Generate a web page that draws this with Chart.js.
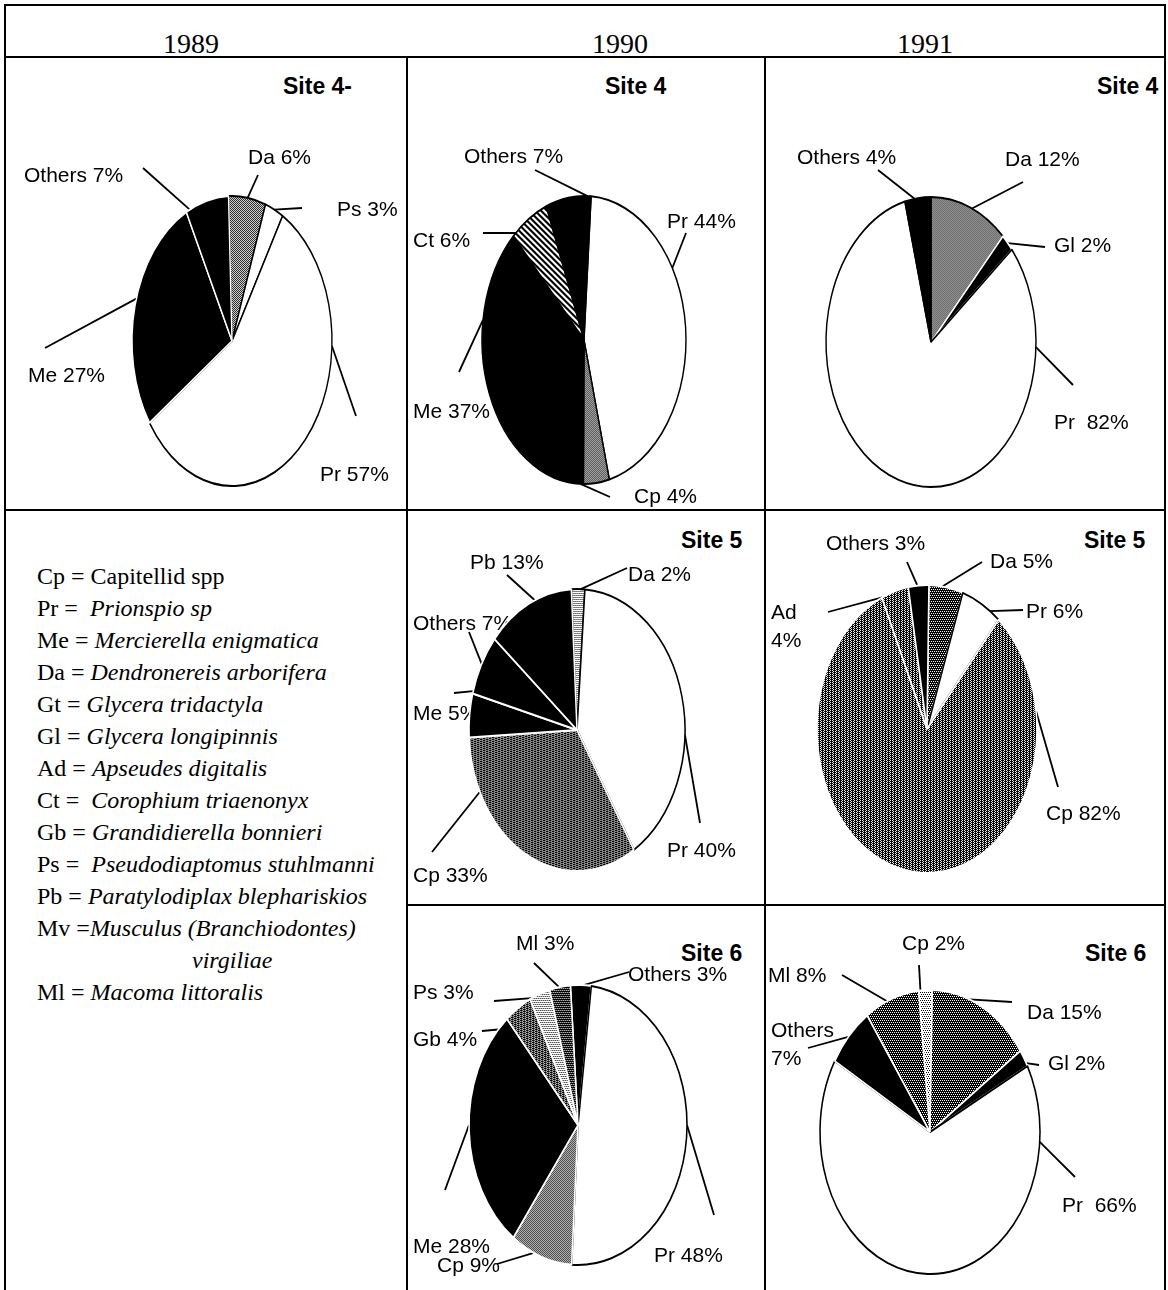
<!DOCTYPE html>
<html>
<head>
<meta charset="utf-8">
<script src="https://cdn.jsdelivr.net/npm/chart.js@4.4.1/dist/chart.umd.min.js"></script>
<style>
  html, body { margin: 0; padding: 0; background: #fff; }
  #page { position: relative; width: 1168px; height: 1290px; overflow: hidden; background: #fff; }
  .rule { position: absolute; background: #000; z-index: 5; }
  .year { position: absolute; font-family: "Liberation Serif", "Times New Roman", serif; font-size: 28px; transform: translate(-50%, -50%); line-height: 1; }
  .site { position: absolute; font-family: "Liberation Sans", Arial, sans-serif; font-weight: bold; font-size: 23px; transform: translateY(-50%); line-height: 1; white-space: pre; }
  canvas { position: absolute; }
  .k { position: absolute; white-space: pre; font-family: "Liberation Serif", "Times New Roman", serif; font-size: 24px; line-height: 1; transform: translateY(-50%); }
  .k i { font-style: italic; }
</style>
</head>
<body>
<div id="page"></div>
<script>
// ---- data -------------------------------------------------------------
const years = ['1989', '1990', '1991'];

// Site 4
const site4_1989_codes = ['Da', 'Ps', 'Pr', 'Me', 'Others'];
const site4_1989_pct   = [6, 3, 57, 27, 7];
const site4_1990_codes = ['Pr', 'Cp', 'Me', 'Ct', 'Others'];
const site4_1990_pct   = [44, 4, 37, 6, 7];
const site4_1991_codes = ['Da', 'Gl', 'Pr', 'Others'];
const site4_1991_pct   = [12, 2, 82, 4];

// Site 5
const site5_1990_codes = ['Da', 'Pr', 'Cp', 'Me', 'Others', 'Pb'];
const site5_1990_pct   = [2, 40, 33, 5, 7, 13];
const site5_1991_codes = ['Da', 'Pr', 'Cp', 'Ad', 'Others'];
const site5_1991_pct   = [5, 6, 82, 4, 3];

// Site 6
const site6_1990_codes = ['Others', 'Pr', 'Cp', 'Me', 'Gb', 'Ps', 'Ml'];
const site6_1990_pct   = [3, 48, 9, 28, 4, 3, 3];
const site6_1991_codes = ['Cp', 'Da', 'Gl', 'Pr', 'Others', 'Ml'];
const site6_1991_pct   = [2, 15, 2, 66, 7, 8];

// Species key
const keyCodes = ['Cp', 'Pr', 'Me', 'Da', 'Gt', 'Gl', 'Ad', 'Ct', 'Gb', 'Ps', 'Pb', 'Mv', 'Ml'];
const keyNames = ['Capitellid spp', 'Prionspio sp', 'Mercierella enigmatica', 'Dendronereis arborifera',
  'Glycera tridactyla', 'Glycera longipinnis', 'Apseudes digitalis', 'Corophium triaenonyx',
  'Grandidierella bonnieri', 'Pseudodiaptomus stuhlmanni', 'Paratylodiplax blephariskios',
  'Musculus (Branchiodontes)\nvirgiliae', 'Macoma littoralis'];

// ---- page frame -------------------------------------------------------
const page = document.getElementById('page');
function el(tag, cls, css, html) {
  const d = document.createElement(tag);
  if (cls) d.className = cls;
  Object.assign(d.style, css);
  if (html !== undefined) d.innerHTML = html;
  page.appendChild(d);
  return d;
}
const rules = [
  [4, 4, 1162, 2], [4, 4, 2, 1286], [1164, 4, 2, 1286],
  [4, 56, 1162, 2],
  [406, 56, 2, 1234], [764, 56, 2, 1234],
  [4, 509, 1162, 2], [406, 904, 760, 2]
];
rules.forEach(r => el('div', 'rule', { left: r[0] + 'px', top: r[1] + 'px', width: r[2] + 'px', height: r[3] + 'px' }));

const yearX = [191, 620, 925];
years.forEach((y, i) => el('div', 'year', { left: yearX[i] + 'px', top: '44px' }, y));

const siteTitles = [
  ['Site 4-', 283, 86], ['Site 4', 605, 86], ['Site 4', 1097, 86],
  ['Site 5', 681, 540], ['Site 5', 1084, 540],
  ['Site 6', 681, 953], ['Site 6', 1085, 953]
];
siteTitles.forEach(s => el('div', 'site', { left: s[1] + 'px', top: s[2] + 'px' }, s[0]));

// species key, one row per code
const keySep = [' = ', ' =  ', ' = ', ' = ', ' = ', ' = ', ' = ', ' =  ', ' = ', ' =  ', ' = ', ' =', ' = '];
let row = 0;
keyCodes.forEach((c, i) => {
  const parts = keyNames[i].split('\n');
  const name = i === 0 ? parts[0] : '<i>' + parts[0] + '</i>';
  el('div', 'k', { left: '37px', top: (576 + row * 32) + 'px' }, c + keySep[i] + name);
  row++;
  if (parts[1]) {
    el('div', 'k', { left: '192px', top: (576 + row * 32) + 'px' }, '<i>' + parts[1] + '</i>');
    row++;
  }
});

// ---- fill patterns ----------------------------------------------------
// Each pie is squeezed horizontally, so its patterns carry the inverse
// stretch to keep the dot screen square on the page.
function tile(n, sx, paint) {
  const c = document.createElement('canvas');
  c.width = c.height = n;
  const g = c.getContext('2d');
  g.fillStyle = '#fff'; g.fillRect(0, 0, n, n);
  g.fillStyle = '#000';
  for (let y = 0; y < n; y++) for (let x = 0; x < n; x++) if (paint(x, y)) g.fillRect(x, y, 1, 1);
  const pat = g.createPattern(c, 'repeat');
  if (pat.setTransform) pat.setTransform(new DOMMatrix([1 / sx, 0, 0, 1, 0, 0]));
  return pat;
}
const lightDots = [[0, 0], [2, 0], [1, 2], [3, 2]];
function fillsFor(sx) {
  return {
    white: '#ffffff',
    black: '#000000',
    light: tile(4, sx, (x, y) => lightDots.some(p => p[0] === x && p[1] === y)),
    mid:   tile(2, sx, (x, y) => (x + y) % 2 === 0),
    dark:  tile(4, sx, (x, y) => !lightDots.some(p => p[0] === x && p[1] === y)),
    cross: tile(6, sx, (x, y) => (x + y) % 2 === 0 || x % 3 === 0),
    hatch: tile(6, sx, (x, y) => ((x - y + 12) % 6) < 3)
  };
}

// ---- pie layouts ------------------------------------------------------
// t: label text position (left, middle), e: outer end of leader, a: leader angle on rim (deg clockwise from top)
const pies = [
  { codes: site4_1989_codes, pct: site4_1989_pct, cell: [6, 58, 406, 509], cx: 232, cy: 341, rx: 100, ry: 145, rot: -2,
    fills: ['mid', 'white', 'white', 'black', 'black'],
    borders: ['#000', '#000', '#000', '#fff', '#fff'],
    labels: [
      { t: [248, 158], e: [258, 175], a: 9 },
      { t: [337, 210], e: [302, 208], a: 25 },
      { t: [320, 475], e: [356, 416], a: 92 },
      { t: [28, 376], e: [45, 348], a: 287 },
      { t: [24, 176], e: [143, 168], a: 335 }
    ] },
  { codes: site4_1990_codes, pct: site4_1990_pct, cell: [408, 58, 764, 509], cx: 584, cy: 340, rx: 102, ry: 144, rot: 4,
    fills: ['white', 'mid', 'black', 'hatch', 'black'],
    borders: ['#000', '#000', '#000', '#000', '#000'],
    labels: [
      { t: [667, 222], e: [686, 233], a: 60 },
      { t: [634, 497], e: [610, 497], a: 182 },
      { t: [413, 412], e: [459, 372], a: 278 },
      { t: [413, 241], e: [483, 233], a: 318 },
      { t: [464, 157], e: [535, 170], a: 2 }
    ] },
  { codes: site4_1991_codes, pct: site4_1991_pct, cell: [766, 58, 1164, 509], cx: 931, cy: 342, rx: 105, ry: 145, rot: 0,
    fills: ['mid', 'black', 'white', 'black'],
    borders: ['#000', '#fff', '#000', '#000'],
    labels: [
      { t: [1005, 160], e: [1023, 182], a: 23 },
      { t: [1054, 246], e: [1045, 247], a: 47 },
      { t: [1054, 423], e: [1073, 385], a: 92, gap: '  ' },
      { t: [797, 158], e: [878, 170], a: 351 }
    ] },
  { codes: site5_1990_codes, pct: site5_1990_pct, cell: [408, 511, 764, 904], cx: 577, cy: 730, rx: 108, ry: 141, rot: -3,
    fills: ['light', 'white', 'cross', 'black', 'black', 'black'],
    borders: ['#000', '#000', '#fff', '#fff', '#fff', '#fff'],
    labels: [
      { t: [628, 575], e: [627, 568], a: 2 },
      { t: [667, 851], e: [700, 823], a: 92 },
      { t: [413, 876], e: [432, 852], a: 244 },
      { t: [413, 714], e: [454, 693], a: 286 },
      { t: [413, 624], e: [469, 632], a: 298 },
      { t: [470, 563], e: [507, 575], a: 337 }
    ] },
  { codes: site5_1991_codes, pct: site5_1991_pct, cell: [766, 511, 1164, 904], cx: 927, cy: 729, rx: 110, ry: 144, rot: 1,
    fills: ['dark', 'white', 'cross', 'cross', 'black'],
    borders: ['#fff', '#000', '#fff', '#fff', '#fff'],
    labels: [
      { t: [990, 562], e: [982, 562], a: 8 },
      { t: [1026, 612], e: [1023, 610], a: 35 },
      { t: [1046, 814], e: [1058, 787], a: 83 },
      { t: [771, 613], e: [828, 612], a: 336, wrap: true },
      { t: [826, 544], e: [907, 562], a: 355 }
    ] },
  { codes: site6_1990_codes, pct: site6_1990_pct, cell: [408, 906, 764, 1290], cx: 578, cy: 1125, rx: 109, ry: 140, rot: -4,
    fills: ['black', 'white', 'mid', 'black', 'cross', 'light', 'dark'],
    borders: ['#fff', '#000', '#fff', '#fff', '#fff', '#fff', '#fff'],
    labels: [
      { t: [628, 975], e: [629, 972], a: 3 },
      { t: [654, 1256], e: [714, 1215], a: 90 },
      { t: [437, 1266], e: [497, 1264], a: 204 },
      { t: [413, 1247], e: [445, 1190], a: 270 },
      { t: [413, 1040], e: [482, 1031], a: 313 },
      { t: [413, 993], e: [494, 1001], a: 335 },
      { t: [516, 944], e: [534, 963], a: 350 }
    ] },
  { codes: site6_1991_codes, pct: site6_1991_pct, cell: [766, 906, 1164, 1290], cx: 930, cy: 1132, rx: 110, ry: 142, rot: -6,
    fills: ['light', 'dark', 'black', 'white', 'black', 'dark'],
    borders: ['#fff', '#fff', '#fff', '#000', '#fff', '#fff'],
    labels: [
      { t: [902, 944], e: [919, 965], a: 355 },
      { t: [1027, 1013], e: [1012, 1002], a: 21 },
      { t: [1048, 1064], e: [1039, 1065], a: 61 },
      { t: [1062, 1206], e: [1075, 1177], a: 94, gap: '  ' },
      { t: [771, 1031], e: [808, 1048], a: 312, wrap: true },
      { t: [768, 976], e: [842, 975], a: 337 }
    ] }
];

// ---- plugin: leader labels under the pie, then squeeze the pie into an ellipse ----
const ovalPie = {
  id: 'ovalPie',
  beforeDatasetsDraw(chart, args, o) {
    const ctx = chart.ctx;
    const arc = chart.getDatasetMeta(0).data[0];
    const cx = arc.x, cy = arc.y, R = arc.outerRadius;
    ctx.save();
    ctx.font = '21px "Liberation Sans", Arial, sans-serif';
    ctx.fillStyle = '#000';
    ctx.strokeStyle = '#000';
    ctx.lineWidth = 1.8;
    ctx.textAlign = 'left';
    ctx.textBaseline = 'middle';
    o.labels.forEach((lb, i) => {
      const a = lb.a * Math.PI / 180;
      const px = cx + o.sx * R * Math.sin(a);
      const py = cy - R * Math.cos(a);
      ctx.beginPath();
      ctx.moveTo(lb.e[0] - o.ox, lb.e[1] - o.oy);
      ctx.lineTo(px, py);
      ctx.stroke();
      const code = o.codes[i];
      const val = o.pct[i] + '%';
      const tx = lb.t[0] - o.ox, ty = lb.t[1] - o.oy;
      if (lb.wrap) {
        ctx.fillText(code, tx, ty);
        ctx.fillText(val, tx, ty + 28);
      } else {
        ctx.fillText(code + (lb.gap || ' ') + val, tx, ty);
      }
    });
    ctx.restore();
    ctx.save();
    ctx.translate(cx, cy);
    ctx.scale(o.sx, 1);
    ctx.translate(-cx, -cy);
  },
  afterDatasetsDraw(chart) {
    chart.ctx.restore();
  }
};

pies.forEach(p => {
  const [x0, y0, x1, y1] = p.cell;
  const W = x1 - x0, H = y1 - y0;
  const sx = p.rx / p.ry;
  const cv = document.createElement('canvas');
  cv.width = W; cv.height = H;
  cv.style.left = x0 + 'px'; cv.style.top = y0 + 'px';
  cv.style.width = W + 'px'; cv.style.height = H + 'px';
  page.appendChild(cv);
  const fills = fillsFor(sx);
  const bw = 2;
  const R = p.ry + bw / 2;
  const lx = p.cx - x0, ly = p.cy - y0;
  new Chart(cv, {
    type: 'pie',
    data: {
      labels: p.codes,
      datasets: [{
        data: p.pct,
        backgroundColor: p.fills.map(f => fills[f]),
        borderColor: p.borders,
        borderWidth: bw,
        clip: false
      }]
    },
    options: {
      responsive: false,
      animation: false,
      rotation: p.rot,
      events: [],
      layout: { padding: { left: lx - R, right: W - (lx + R), top: ly - R, bottom: H - (ly + R) } },
      plugins: {
        legend: { display: false },
        tooltip: { enabled: false },
        ovalPie: { labels: p.labels, codes: p.codes, pct: p.pct, sx: sx, ox: x0, oy: y0 }
      }
    },
    plugins: [ovalPie]
  });
});
</script>
</body>
</html>
